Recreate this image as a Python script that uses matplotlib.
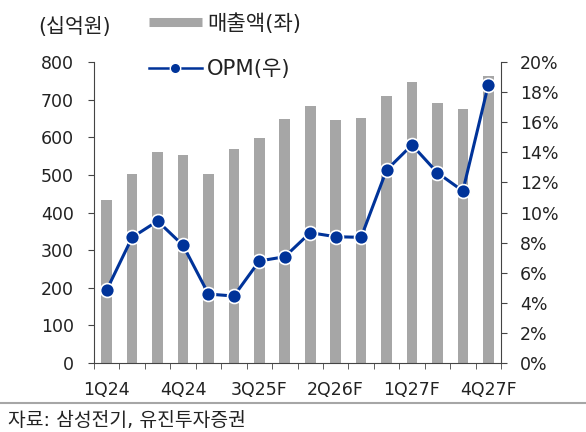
import matplotlib.pyplot as plt
import numpy as np
from matplotlib.lines import Line2D

plt.rcParams['font.family'] = ['DejaVu Sans', 'Noto Sans CJK KR']

quarters = ['1Q24', '2Q24', '3Q24', '4Q24', '1Q25', '2Q25', '3Q25F', '4Q25F',
            '1Q26F', '2Q26F', '3Q26F', '4Q26F', '1Q27F', '2Q27F', '3Q27F', '4Q27F']
sales = [433, 502, 562, 553, 503, 568, 597, 648, 682, 646, 651, 710, 747, 692, 674, 763]
opm = [4.85, 8.35, 9.43, 7.82, 4.58, 4.45, 6.78, 7.06, 8.66, 8.39, 8.35, 12.82, 14.49, 12.64, 11.43, 18.47]

bar_color = '#a6a6a6'
line_color = '#003399'
text_color = '#222222'

fig = plt.figure(figsize=(5.86, 4.32), dpi=100)
ax = fig.add_axes([94/586, 1-363/432, (501-94)/586, (363-62)/432])
ax2 = ax.twinx()

x = np.arange(len(quarters))
ax.bar(x, sales, width=0.42, color=bar_color, zorder=2)
ax2.plot(x, opm, color=line_color, lw=2.2, marker='o', markersize=10,
         markerfacecolor=line_color, markeredgecolor='white', markeredgewidth=1.2, zorder=3)

ax.set_xlim(-0.5, len(quarters) - 0.5)
ax.set_ylim(0, 800)
ax.set_yticks(range(0, 801, 100))
ax2.set_ylim(0, 20)
ax2.set_yticks(range(0, 21, 2))
ax2.set_yticklabels([f'{v}%' for v in range(0, 21, 2)])

ax.set_xticks(x[::3])
ax.set_xticklabels(quarters[::3])
ax.set_xticks(np.arange(-0.5, len(quarters), 1), minor=True)

for a in (ax, ax2):
    a.spines['top'].set_visible(False)
    for s in a.spines.values():
        s.set_color('#444444')
    a.tick_params(axis='both', labelsize=12.5, colors=text_color, length=4.5)
    a.tick_params(axis='both', color='#444444')
ax.tick_params(axis='y', pad=10)
ax2.tick_params(axis='y', pad=9)
ax.tick_params(axis='x', which='major', length=0, pad=13)
ax.tick_params(axis='x', which='minor', length=4.5, direction='out', color='#444444')
ax2.spines['left'].set_visible(False)
ax.spines['right'].set_visible(False)
ax2.spines['bottom'].set_visible(False)
ax.set_zorder(ax2.get_zorder() - 1)
ax.patch.set_visible(False)

fig.text(38/586, 1-27/432, '(십억원)', fontsize=14.8, color=text_color, va='center', ha='left')

handles = [Line2D([], [], color=bar_color, lw=6.5, solid_capstyle='butt'),
           Line2D([], [], color=line_color, lw=1.8, marker='o', markersize=7.5,
                  markerfacecolor=line_color, markeredgecolor='white')]
fig.legend(handles, ['매출액(좌)', 'OPM(우)'], loc='upper left',
           bbox_to_anchor=(149/586, 1-13/432), frameon=False, fontsize=15.2,
           handlelength=2.5, handletextpad=0.25, labelspacing=1.2,
           borderpad=0, borderaxespad=0, labelcolor=text_color)

fig.add_artist(Line2D([0, 1], [1-403/432, 1-403/432], color='#a6a6a6', lw=1.5,
                      transform=fig.transFigure))
fig.text(8/586, 1-420/432, '자료: 삼성전기, 유진투자증권', fontsize=13.9,
         color=text_color, va='center', ha='left')

fig.savefig('out.png', dpi=100)
